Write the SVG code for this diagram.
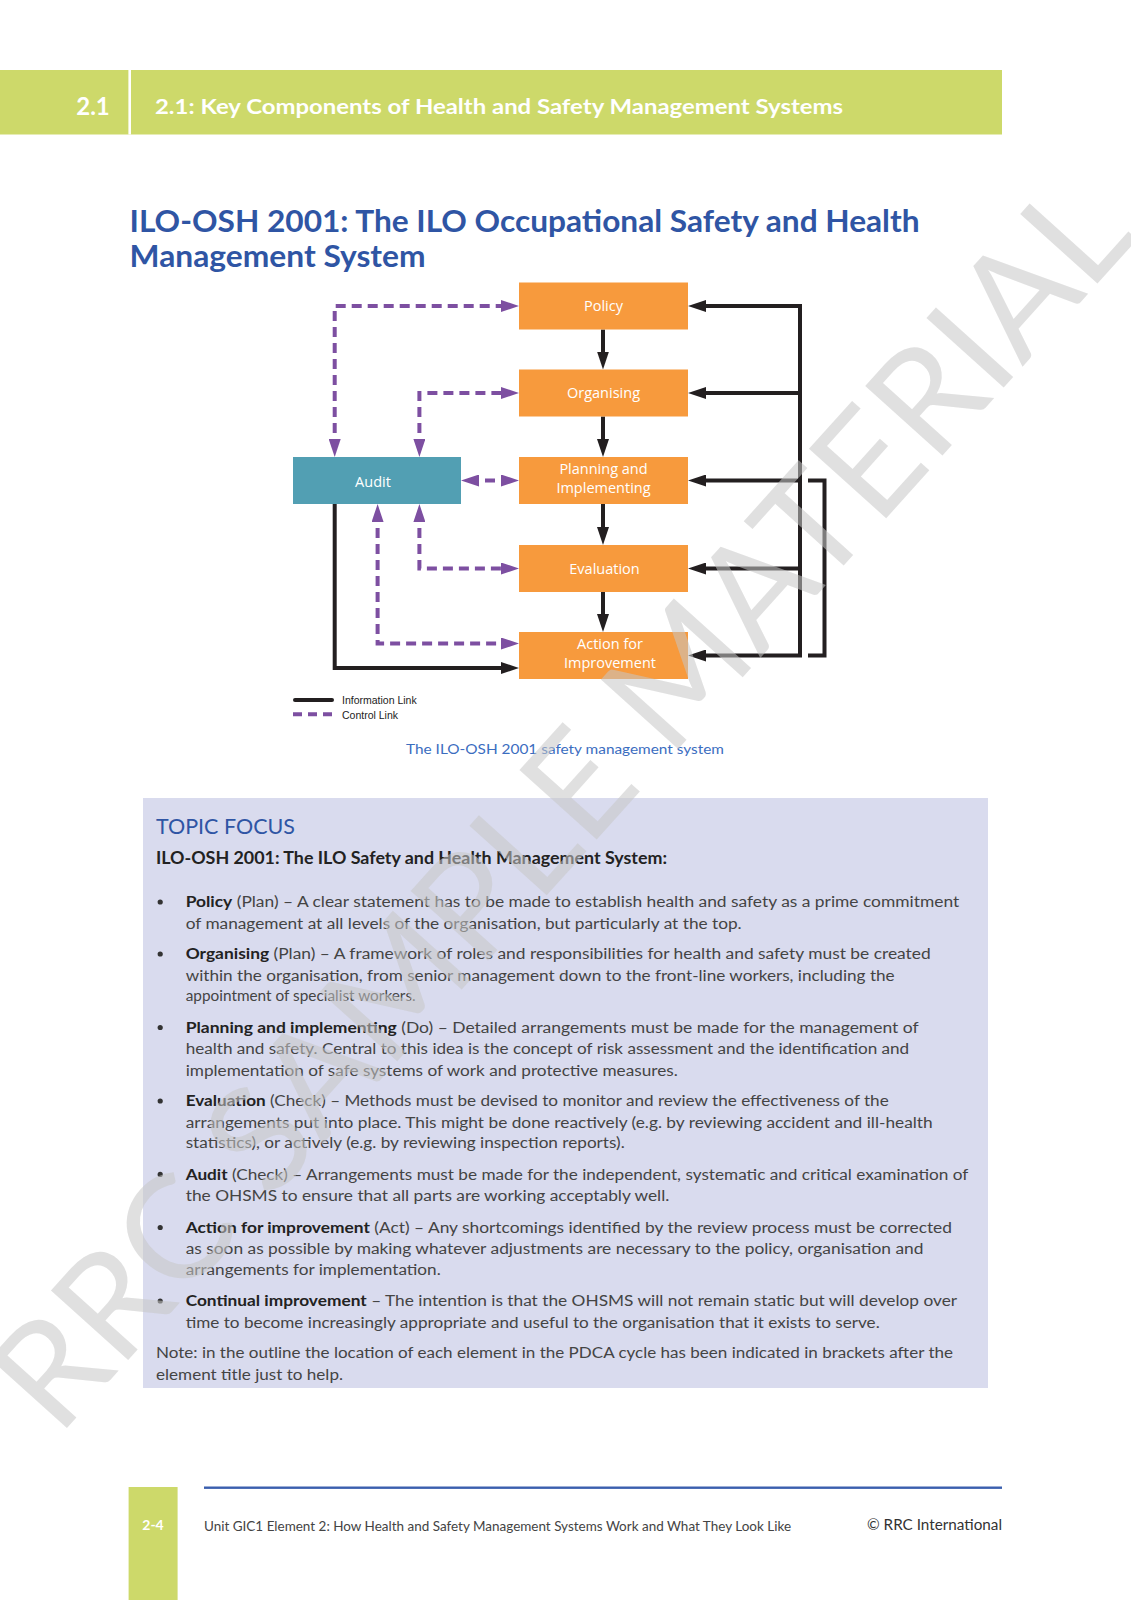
<svg xmlns="http://www.w3.org/2000/svg" width="1131" height="1600" viewBox="0 0 1131 1600">
<style>
.sans{font-family:Lato,"Open Sans","Liberation Sans",sans-serif}
.hdr{font-family:Lato,"Open Sans","Liberation Sans",sans-serif;font-weight:700;fill:#ffffff}
.title{font-family:Lato,"Open Sans","Liberation Sans",sans-serif;font-weight:700;fill:#2f55a4;font-size:30px}
.orange{fill:#f79a3d}
.teal{fill:#529fb3}
.lbl{font-family:"Open Sans","Liberation Sans",sans-serif;font-size:14.5px;fill:#ffffff;text-anchor:middle}
.info{fill:none;stroke:#231f20;stroke-width:4}
.ctrl{fill:none;stroke:#7d4fa1;stroke-width:4;stroke-dasharray:10 6}
.leg{font-family:"Liberation Sans",Arial,sans-serif;font-size:10.5px;fill:#222}
.body{font-family:Lato,"Open Sans","Liberation Sans",sans-serif;font-size:15.5px;fill:#444444}
.b{font-weight:700;fill:#222}
.dot{fill:#333}
</style>
<defs>
<marker id="ab" markerUnits="userSpaceOnUse" markerWidth="18" markerHeight="12" viewBox="0 0 18 12" refX="10" refY="6" orient="auto-start-reverse"><path d="M0,0 L18,6 L0,12 z" fill="#231f20"/></marker>
<marker id="ap" markerUnits="userSpaceOnUse" markerWidth="18" markerHeight="12" viewBox="0 0 18 12" refX="10" refY="6" orient="auto-start-reverse"><path d="M0,0 L18,6 L0,12 z" fill="#7d4fa1"/></marker>
</defs>
<rect width="1131" height="1600" fill="#ffffff"/>

<g id="header">
<rect x="0" y="70" width="1002" height="64.5" fill="#cdd96a"/>
<rect x="128.4" y="70" width="2.6" height="64.5" fill="#ffffff"/>
<text class="hdr" x="93" y="115" font-size="24" text-anchor="middle">2.1</text>
<text class="hdr" x="155" y="113.5" font-size="20.5" textLength="688" lengthAdjust="spacingAndGlyphs">2.1: Key Components of Health and Safety Management Systems</text>
</g>

<g id="title">
<text class="title" x="129.6" y="231.6" textLength="790" lengthAdjust="spacingAndGlyphs">ILO-OSH 2001: The ILO Occupational Safety and Health</text>
<text class="title" x="129.6" y="266.8" textLength="296" lengthAdjust="spacingAndGlyphs">Management System</text>
</g>

<g id="connectors">
<path class="info" d="M603 329.5 V361.5" marker-end="url(#ab)"/>
<path class="info" d="M603 416.5 V449" marker-end="url(#ab)"/>
<path class="info" d="M603 504 V537" marker-end="url(#ab)"/>
<path class="info" d="M603 592 V624" marker-end="url(#ab)"/>
<path class="info" d="M696 306 H800 V655.5 H696" marker-start="url(#ab)" marker-end="url(#ab)"/>
<path class="info" d="M800 393 H696" marker-end="url(#ab)"/>
<path class="info" d="M800 480.5 H696" marker-end="url(#ab)"/>
<path class="info" d="M800 568.5 H696" marker-end="url(#ab)"/>
<path class="info" d="M808 480.5 H824.5 V655.5 H808"/>
<path class="info" d="M334.7 504 V668 H511" marker-end="url(#ab)"/>
<path class="ctrl" d="M334.7 449 V306 H511" marker-start="url(#ap)" marker-end="url(#ap)"/>
<path class="ctrl" d="M419.4 449 V393 H511" marker-start="url(#ap)" marker-end="url(#ap)"/>
<path class="ctrl" d="M469 480.5 H511" marker-start="url(#ap)" marker-end="url(#ap)"/>
<path class="ctrl" d="M419.4 512 V568.5 H511" marker-start="url(#ap)" marker-end="url(#ap)"/>
<path class="ctrl" d="M377.6 512 V643.5 H511" marker-start="url(#ap)" marker-end="url(#ap)"/>
</g>

<g id="node-policy"><rect class="orange" x="519" y="282.5" width="169" height="47"/><text class="lbl" x="603.5" y="311">Policy</text></g>
<g id="node-organising"><rect class="orange" x="519" y="369.5" width="169" height="47"/><text class="lbl" x="603.5" y="398">Organising</text></g>
<g id="node-planning"><rect class="orange" x="519" y="457" width="169" height="47"/><text class="lbl" x="603.5" y="474">Planning and</text><text class="lbl" x="603.5" y="493">Implementing</text></g>
<g id="node-evaluation"><rect class="orange" x="519" y="545" width="169" height="47"/><text class="lbl" x="604.5" y="573.5">Evaluation</text></g>
<g id="node-action"><rect class="orange" x="519" y="632" width="169" height="47"/><text class="lbl" x="610" y="648.5">Action for</text><text class="lbl" x="610" y="667.5">Improvement</text></g>
<g id="node-audit"><rect class="teal" x="293" y="457" width="168" height="47"/><text class="lbl" x="373" y="486.5">Audit</text></g>

<g id="legend">
<path d="M295 700 H332" stroke="#231f20" stroke-width="4" stroke-linecap="round"/>
<path d="M293 714.3 H334" stroke="#7d4fa1" stroke-width="4" stroke-dasharray="9 6"/>
<text class="leg" x="342" y="704">Information Link</text>
<text class="leg" x="342" y="718.5">Control Link</text>
</g>

<text class="sans" x="406" y="754" font-size="13.5" fill="#3b6dbf" textLength="318" lengthAdjust="spacingAndGlyphs">The ILO-OSH 2001 safety management system</text>

<g id="topic-focus">
<rect x="143" y="798" width="845" height="590" fill="#d9dbee"/>
<text class="sans" x="156" y="833.5" font-size="22" fill="#2f55a4" textLength="139" lengthAdjust="spacingAndGlyphs">TOPIC FOCUS</text>
<text class="sans" x="156" y="864.3" font-size="16.5" font-weight="700" fill="#222" textLength="511" lengthAdjust="spacingAndGlyphs">ILO-OSH 2001: The ILO Safety and Health Management System:</text>

<circle class="dot" cx="160.2" cy="902" r="2.6"/>
<text class="body" x="185.7" y="907.1" textLength="773.5" lengthAdjust="spacingAndGlyphs"><tspan class="b">Policy</tspan> (Plan) – A clear statement has to be made to establish health and safety as a prime commitment</text>
<text class="body" x="185.7" y="928.6" textLength="556" lengthAdjust="spacingAndGlyphs">of management at all levels of the organisation, but particularly at the top.</text>

<circle class="dot" cx="160.2" cy="954" r="2.6"/>
<text class="body" x="185.7" y="959.2" textLength="745" lengthAdjust="spacingAndGlyphs"><tspan class="b">Organising</tspan> (Plan) – A framework of roles and responsibilities for health and safety must be created</text>
<text class="body" x="185.7" y="980.6" textLength="709" lengthAdjust="spacingAndGlyphs">within the organisation, from senior management down to the front-line workers, including the</text>
<text class="body" x="185.7" y="1001.1" textLength="230" lengthAdjust="spacingAndGlyphs">appointment of specialist workers.</text>

<circle class="dot" cx="160.2" cy="1027.5" r="2.6"/>
<text class="body" x="185.7" y="1032.7" textLength="733" lengthAdjust="spacingAndGlyphs"><tspan class="b">Planning and implementing</tspan> (Do) – Detailed arrangements must be made for the management of</text>
<text class="body" x="185.7" y="1054.1" textLength="723.5" lengthAdjust="spacingAndGlyphs">health and safety. Central to this idea is the concept of risk assessment and the identification and</text>
<text class="body" x="185.7" y="1075.5" textLength="492" lengthAdjust="spacingAndGlyphs">implementation of safe systems of work and protective measures.</text>

<circle class="dot" cx="160.2" cy="1101" r="2.6"/>
<text class="body" x="185.7" y="1106.2" textLength="703" lengthAdjust="spacingAndGlyphs"><tspan class="b">Evaluation</tspan> (Check) – Methods must be devised to monitor and review the effectiveness of the</text>
<text class="body" x="185.7" y="1127.6" textLength="747" lengthAdjust="spacingAndGlyphs">arrangements put into place. This might be done reactively (e.g. by reviewing accident and ill-health</text>
<text class="body" x="185.7" y="1148" textLength="439" lengthAdjust="spacingAndGlyphs">statistics), or actively (e.g. by reviewing inspection reports).</text>

<circle class="dot" cx="160.2" cy="1174.4" r="2.6"/>
<text class="body" x="185.7" y="1179.6" textLength="782.7" lengthAdjust="spacingAndGlyphs"><tspan class="b">Audit</tspan> (Check) – Arrangements must be made for the independent, systematic and critical examination of</text>
<text class="body" x="185.7" y="1201.1" textLength="483.7" lengthAdjust="spacingAndGlyphs">the OHSMS to ensure that all parts are working acceptably well.</text>

<circle class="dot" cx="160.2" cy="1227.5" r="2.6"/>
<text class="body" x="185.7" y="1232.7" textLength="766.3" lengthAdjust="spacingAndGlyphs"><tspan class="b">Action for improvement</tspan> (Act) – Any shortcomings identified by the review process must be corrected</text>
<text class="body" x="185.7" y="1254.1" textLength="737.8" lengthAdjust="spacingAndGlyphs">as soon as possible by making whatever adjustments are necessary to the policy, organisation and</text>
<text class="body" x="185.7" y="1274.5" textLength="255" lengthAdjust="spacingAndGlyphs">arrangements for implementation.</text>

<circle class="dot" cx="160.2" cy="1301" r="2.6"/>
<text class="body" x="185.7" y="1306.1" textLength="771.4" lengthAdjust="spacingAndGlyphs"><tspan class="b">Continual improvement</tspan> – The intention is that the OHSMS will not remain static but will develop over</text>
<text class="body" x="185.7" y="1327.6" textLength="694" lengthAdjust="spacingAndGlyphs">time to become increasingly appropriate and useful to the organisation that it exists to serve.</text>

<text class="body" x="156" y="1358.2" textLength="797" lengthAdjust="spacingAndGlyphs">Note: in the outline the location of each element in the PDCA cycle has been indicated in brackets after the</text>
<text class="body" x="156" y="1379.6" textLength="187" lengthAdjust="spacingAndGlyphs">element title just to help.</text>
</g>

<g id="footer">
<rect x="128.6" y="1487" width="49" height="113" fill="#cdd96a"/>
<text class="hdr" x="153" y="1530" font-size="14" text-anchor="middle">2-4</text>
<rect x="204" y="1486.5" width="798" height="2.4" fill="#3a5fae"/>
<text class="sans" x="204" y="1530.5" font-size="12.5" fill="#444" textLength="587" lengthAdjust="spacingAndGlyphs">Unit GIC1 Element 2: How Health and Safety Management Systems Work and What They Look Like</text>
<text class="sans" x="867" y="1530" font-size="14.5" fill="#333" textLength="135" lengthAdjust="spacingAndGlyphs">© RRC International</text>
</g>

<g id="watermark">
<text class="sans" x="0" y="0" transform="translate(58,1438) rotate(-48)" font-size="145" fill="#c6c6c6" fill-opacity="0.55" textLength="1615" lengthAdjust="spacingAndGlyphs">RRC SAMPLE MATERIAL</text>
</g>
</svg>
